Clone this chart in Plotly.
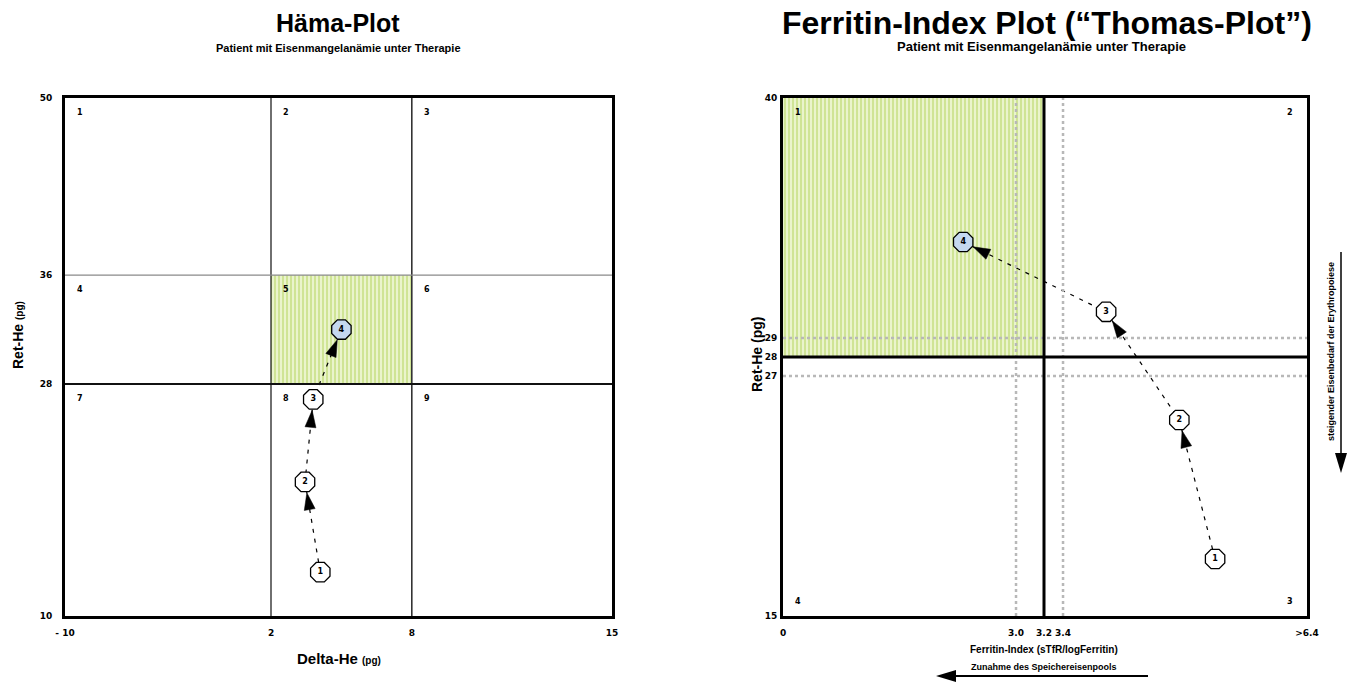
import numpy as np
import plotly.graph_objects as go

W, H = 1347, 682

# ---------------- data ----------------
point_labels = ["1", "2", "3", "4"]

# Häma-Plot (Delta-He vs Ret-He)
haema_delta_he = [4.1, 3.45, 3.8, 5.0]
haema_ret_he = [13.4, 20.4, 26.8, 32.0]

# Ferritin-Index Plot (Thomas-Plot)
thomas_ferritin_index = [5.27, 4.83, 3.93, 2.32]
thomas_ret_he = [17.85, 24.8, 30.2, 33.4]

haema_x_ticks = [-10, 2, 8, 15]
haema_x_ticktext = ["- 10", "2", "8", "15"]
haema_y_ticks = [10, 28, 36, 50]
haema_y_ticktext = ["10", "28", "36", "50"]

thomas_x_ticks = [0, 3.0, 3.2, 3.4, 6.4]
thomas_x_ticktext = ["0", "3.0", "3.2", "3.4", ">6.4"]
thomas_y_ticks = [15, 27, 28, 29, 40]
thomas_y_ticktext = ["15", "27", "28", "29", "40"]

haema_cell_labels = ["1", "2", "3", "4", "5", "6", "7", "8", "9"]
thomas_cell_labels = ["1", "2", "3", "4"]

# ------------- schematic (piecewise-linear) axis scales -------------
HAEMA_X_SCALE = (haema_x_ticks, [0, 0.3766, 0.634, 1])
HAEMA_Y_SCALE = (haema_y_ticks, [0, 0.448, 0.658, 1])
THOMAS_X_SCALE = (thomas_x_ticks, [0, 0.4447, 0.4981, 0.5344, 1])
THOMAS_Y_SCALE = (thomas_y_ticks, [0, 0.4633, 0.5, 0.5367, 1])

HAEMA_XDOM = [65 / W, 612 / W]
THOMAS_XDOM = [783 / W, 1307 / W]
YDOM = [1 - 616 / H, 1 - 98 / H]


def sc(v, scale):
    return np.interp(v, scale[0], scale[1])


def px(x):
    return x / W


def py(y):
    return 1 - y / H


FONT = "Liberation Sans, Arial, sans-serif"
NARROW = "Liberation Sans Narrow, Liberation Sans, Arial, sans-serif"
TICKFONT = dict(family="DejaVu Sans, Verdana, sans-serif", size=9, color="black", weight="bold")

fig = go.Figure()
shapes = []

pattern = dict(shape="|", fgcolor="#b3d45e", bgcolor="#eaf4cc", size=4, solidity=0.5)


def add_chart(xs, ys, xscale, yscale, xa, ya, xdom, region):
    (rx0, rx1), (ry0, ry1) = region
    X0, X1 = sc(rx0, xscale), sc(rx1, xscale)
    Y0, Y1 = sc(ry0, yscale), sc(ry1, yscale)
    fig.add_trace(go.Scatter(
        x=[X0, X1, X1, X0, X0], y=[Y0, Y0, Y1, Y1, Y0], xaxis=xa, yaxis=ya,
        mode="lines", fill="toself", fillpattern=pattern, fillcolor="#eaf4cc",
        line=dict(width=0), hoverinfo="skip", showlegend=False))
    tx = sc(xs, xscale)
    ty = sc(ys, yscale)
    fig.add_trace(go.Scatter(
        x=tx, y=ty, xaxis=xa, yaxis=ya, mode="lines",
        line=dict(color="black", width=1.2, dash="4px,6px"),
        hoverinfo="skip", showlegend=False))
    # arrowheads (computed in pixel space from the data positions)
    wp = (xdom[1] - xdom[0]) * W
    hp = (YDOM[1] - YDOM[0]) * H
    for i in range(1, len(xs)):
        dx = (tx[i] - tx[i - 1]) * wp
        dy = (ty[i] - ty[i - 1]) * hp
        n = np.hypot(dx, dy)
        ux, uy = dx / n, dy / n
        tipx, tipy = tx[i] * wp - ux * 11, ty[i] * hp - uy * 11
        bx, by = tipx - ux * 17, tipy - uy * 17
        pxs = [tipx, bx - uy * 5.5, bx + uy * 5.5]
        pys = [tipy, by + ux * 5.5, by - ux * 5.5]
        pts = [(a / wp, b / hp) for a, b in zip(pxs, pys)]
        path = "M {},{} L {},{} L {},{} Z".format(*[c for p in pts for c in p])
        shapes.append(dict(type="path", xref=xa, yref=ya, path=path,
                           fillcolor="black", line=dict(color="black", width=0.5),
                           layer="above"))
    colors = ["white"] * (len(xs) - 1) + ["#c5d8f0"]
    fig.add_trace(go.Scatter(
        x=tx, y=ty, xaxis=xa, yaxis=ya, mode="markers+text",
        text=point_labels, textposition="middle center",
        textfont=dict(family="DejaVu Sans, sans-serif", size=8, color="black", weight="bold"),
        customdata=np.column_stack([xs, ys]),
        hovertemplate="%{customdata[0]}, %{customdata[1]}<extra></extra>",
        marker=dict(symbol="octagon", size=21, color=colors, line=dict(color="black", width=1.3)),
        showlegend=False))


def vline(xv, xref, yref, **line):
    shapes.append(dict(type="line", xref=xref, yref=yref, x0=xv, x1=xv, y0=0, y1=1,
                       line=line, layer="above"))


def hline(yv, xref, yref, **line):
    shapes.append(dict(type="line", xref=xref, yref=yref, x0=0, x1=1, y0=yv, y1=yv,
                       line=line, layer="above"))


# Häma-Plot grid
vline(sc(2, HAEMA_X_SCALE), "x", "y", color="#222222", width=1.3)
vline(sc(8, HAEMA_X_SCALE), "x", "y", color="#333333", width=1.6)
hline(sc(36, HAEMA_Y_SCALE), "x", "y", color="#8a8a8a", width=1.2)
hline(sc(28, HAEMA_Y_SCALE), "x", "y", color="#111111", width=2)

# Thomas-Plot grid
for v in (3.0, 3.4):
    vline(sc(v, THOMAS_X_SCALE), "x2", "y2", color="#b8b8b8", width=2.5, dash="dot")
for v in (29, 27):
    hline(sc(v, THOMAS_Y_SCALE), "x2", "y2", color="#b8b8b8", width=2.5, dash="dot")
vline(sc(3.2, THOMAS_X_SCALE), "x2", "y2", color="black", width=3)
hline(sc(28, THOMAS_Y_SCALE), "x2", "y2", color="black", width=3)

add_chart(haema_delta_he, haema_ret_he, HAEMA_X_SCALE, HAEMA_Y_SCALE, "x", "y",
          HAEMA_XDOM, ((2, 8), (28, 36)))
add_chart(thomas_ferritin_index, thomas_ret_he, THOMAS_X_SCALE, THOMAS_Y_SCALE, "x2", "y2",
          THOMAS_XDOM, ((0, 3.2), (28, 40)))

# decorative arrows (paper coords)
shapes.append(dict(type="line", xref="paper", yref="paper",
                   x0=px(953), x1=px(1148), y0=py(676), y1=py(676),
                   line=dict(color="black", width=2)))
shapes.append(dict(type="path", xref="paper", yref="paper",
                   path=f"M {px(936)},{py(676)} L {px(956)},{py(670)} L {px(956)},{py(682)} Z",
                   fillcolor="black", line=dict(color="black", width=0)))
shapes.append(dict(type="line", xref="paper", yref="paper",
                   x0=px(1341), x1=px(1341), y0=py(252), y1=py(455),
                   line=dict(color="black", width=1.5)))
shapes.append(dict(type="path", xref="paper", yref="paper",
                   path=f"M {px(1341)},{py(473)} L {px(1335)},{py(453)} L {px(1347)},{py(453)} Z",
                   fillcolor="black", line=dict(color="black", width=0)))

ann = []


def text(x, y, t, size, family=FONT, angle=0, weight="bold", **kw):
    ann.append(dict(x=x, y=y, xref="paper", yref="paper", text=t, showarrow=False,
                    textangle=angle, xanchor="center", yanchor="middle",
                    font=dict(family=family, size=size, color="black", weight=weight), **kw))


text(px(338), py(23), "Häma-Plot", 25)
text(px(338), py(48), "Patient mit Eisenmangelanämie unter Therapie", 11)
text(px(1047), py(23), "Ferritin-Index Plot (“Thomas-Plot”)", 32)
text(px(1041), py(47), "Patient mit Eisenmangelanämie unter Therapie", 13)

text(px(18), py(335), "Ret-He <span style='font-size:10px'>(pg)</span>", 14, angle=-90)
text(px(339), py(658), "Delta-He <span style='font-size:10px'>(pg)</span>", 15, family=NARROW)
text(px(757), py(355), "Ret-He (pg)", 14, angle=-90)
text(px(1044), py(649), "Ferritin-Index (sTfR/logFerritin)", 10, family=NARROW)
text(px(1044), py(667), "Zunahme des Speichereisenpools", 9, family=NARROW)
text(px(1331), py(352), "steigender Eisenbedarf der Erythropoiese", 9, family=NARROW, angle=-90)

CELLFONT = dict(family="DejaVu Sans, sans-serif", size=8, color="black", weight="bold")

# Häma cell numbers (top-left corner of each cell)
cols = [-10, 2, 8]
rows = [50, 36, 28]
k = 0
for r in rows:
    for c in cols:
        ann.append(dict(x=sc(c, HAEMA_X_SCALE), y=sc(r, HAEMA_Y_SCALE), xref="x", yref="y",
                        text=haema_cell_labels[k], showarrow=False, xanchor="left", yanchor="top",
                        xshift=10, yshift=-8, font=CELLFONT))
        k += 1

# Thomas quadrant numbers
corners = [(0, 40, "left", "top"), (6.4, 40, "right", "top"),
           (6.4, 15, "right", "bottom"), (0, 15, "left", "bottom")]
for lab, (cx, cy, xa_, ya_) in zip(thomas_cell_labels, corners):
    ann.append(dict(x=sc(cx, THOMAS_X_SCALE), y=sc(cy, THOMAS_Y_SCALE), xref="x2", yref="y2",
                    text=lab, showarrow=False, xanchor=xa_, yanchor=ya_,
                    xshift=10 if xa_ == "left" else -12, yshift=-8 if ya_ == "top" else 8,
                    font=CELLFONT))


def axis(domain, ticks, ticktext, scale, anchor, ticklen=6):
    return dict(domain=domain, range=[0, 1], tickvals=list(sc(ticks, scale)), ticktext=ticktext,
                showgrid=False, zeroline=False, showline=True, linewidth=3, linecolor="black",
                mirror=True, ticks="outside", ticklen=ticklen, tickcolor="rgba(0,0,0,0)",
                tickfont=TICKFONT, fixedrange=True, anchor=anchor, automargin=False)


fig.update_layout(
    width=W, height=H, autosize=False,
    margin=dict(l=0, r=0, t=0, b=0, pad=0, autoexpand=False),
    paper_bgcolor="white", plot_bgcolor="white",
    showlegend=False,
    xaxis=axis(HAEMA_XDOM, haema_x_ticks, haema_x_ticktext, HAEMA_X_SCALE, "y"),
    yaxis=axis(YDOM, haema_y_ticks, haema_y_ticktext, HAEMA_Y_SCALE, "x", ticklen=8),
    xaxis2=axis(THOMAS_XDOM, thomas_x_ticks, thomas_x_ticktext, THOMAS_X_SCALE, "y2"),
    yaxis2=axis(YDOM, thomas_y_ticks, thomas_y_ticktext, THOMAS_Y_SCALE, "x2", ticklen=1),
    shapes=shapes,
    annotations=ann,
)

fig.write_html("out.html", config={"displayModeBar": False},
               post_script="document.body.style.margin='0px';document.body.style.overflow='hidden';")
